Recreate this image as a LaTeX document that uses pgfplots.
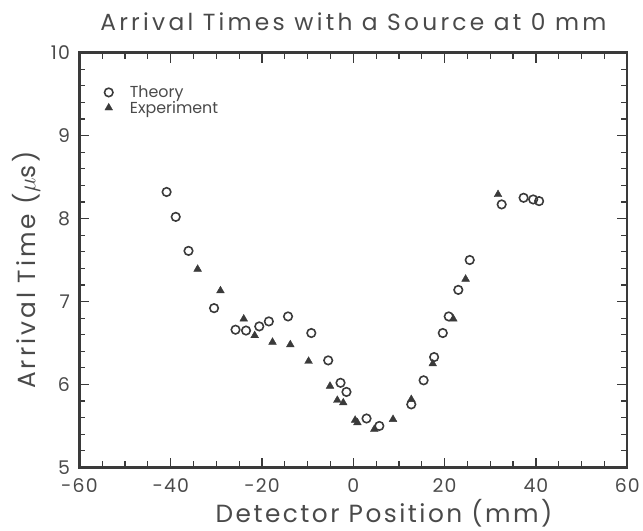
\documentclass[border=0pt]{standalone}
\usepackage{fontspec}
\setmainfont{Poppins}
\usepackage{pgfplots}
\pgfplotsset{compat=1.18}

\definecolor{ink}{HTML}{3A3A3A}
\definecolor{txt}{HTML}{4A4A4A}

\pgfplotstableread{
x y
-40.9 8.32
-38.9 8.02
-36.1 7.61
-30.5 6.92
-25.8 6.66
-23.5 6.65
-20.6 6.70
-18.5 6.76
-14.3 6.82
-9.2 6.62
-5.5 6.29
-2.8 6.02
-1.5 5.91
2.9 5.59
5.7 5.50
12.7 5.76
15.4 6.05
17.7 6.33
19.6 6.62
20.9 6.82
23.0 7.14
25.5 7.50
32.5 8.17
37.3 8.25
39.4 8.23
40.7 8.21
}\theory

\pgfplotstableread{
x y
-34.1 7.39
-29.1 7.13
-24.0 6.79
-21.6 6.59
-17.7 6.51
-13.8 6.48
-9.8 6.28
-5.1 5.98
-3.5 5.81
-2.2 5.78
0.4 5.57
0.9 5.54
4.6 5.46
8.7 5.58
12.7 5.82
17.4 6.25
21.9 6.79
24.6 7.27
31.7 8.29
}\experiment

\begin{document}
\begin{tikzpicture}
\begin{axis}[
    scale only axis,
    width=552pt, height=418pt,
    xmin=-60, xmax=60,
    ymin=5, ymax=10,
    xtick={-60,-40,...,60},
    ytick={5,6,...,10},
    minor x tick num=3,
    minor y tick num=4,
    tick align=inside,
    major tick length=10pt,
    minor tick length=6pt,
    tick style={ink, line width=1.2pt},
    axis line style={ink, line width=2.4pt},
    every tick label/.append style={font=\fontsize{19}{19}\selectfont\addfontfeatures{LetterSpace=6}, text=txt},
    xticklabel style={yshift=-8pt},
    yticklabel style={xshift=-6pt},
    /pgf/number format/assume math mode=true,
    title={Arrival Times with a Source at 0 mm},
    title style={font=\fontsize{23.5}{23.5}\selectfont\addfontfeatures{LetterSpace=14}, text=txt, yshift=13pt},
    xlabel={Detector Position (mm)},
    ylabel={Arrival Time ($\mu$s)},
    xlabel style={font=\fontsize{25}{25}\selectfont\addfontfeatures{LetterSpace=10}, text=txt, xshift=31pt},
    ylabel style={font=\fontsize{25}{25}\selectfont\addfontfeatures{LetterSpace=12}, text=txt, yshift=4pt, xshift=-10pt},
    legend style={draw=none, fill=none, at={(0.04,0.93)}, anchor=north west,
        font=\fontsize{16}{16}\selectfont, text=txt, row sep=-2pt},
    legend cell align=left,
]
\addplot[only marks, mark=o, mark size=4.3pt, ink, line width=1.6pt] table {\theory};
\addlegendentry{\hspace{15pt}Theory}
\addplot[only marks, mark=triangle*, mark size=4.5pt, ink, fill=ink] table {\experiment};
\addlegendentry{\hspace{15pt}Experiment}
\end{axis}
\useasboundingbox (-80pt,-62pt) rectangle (563pt,471pt);
\end{tikzpicture}
\end{document}
